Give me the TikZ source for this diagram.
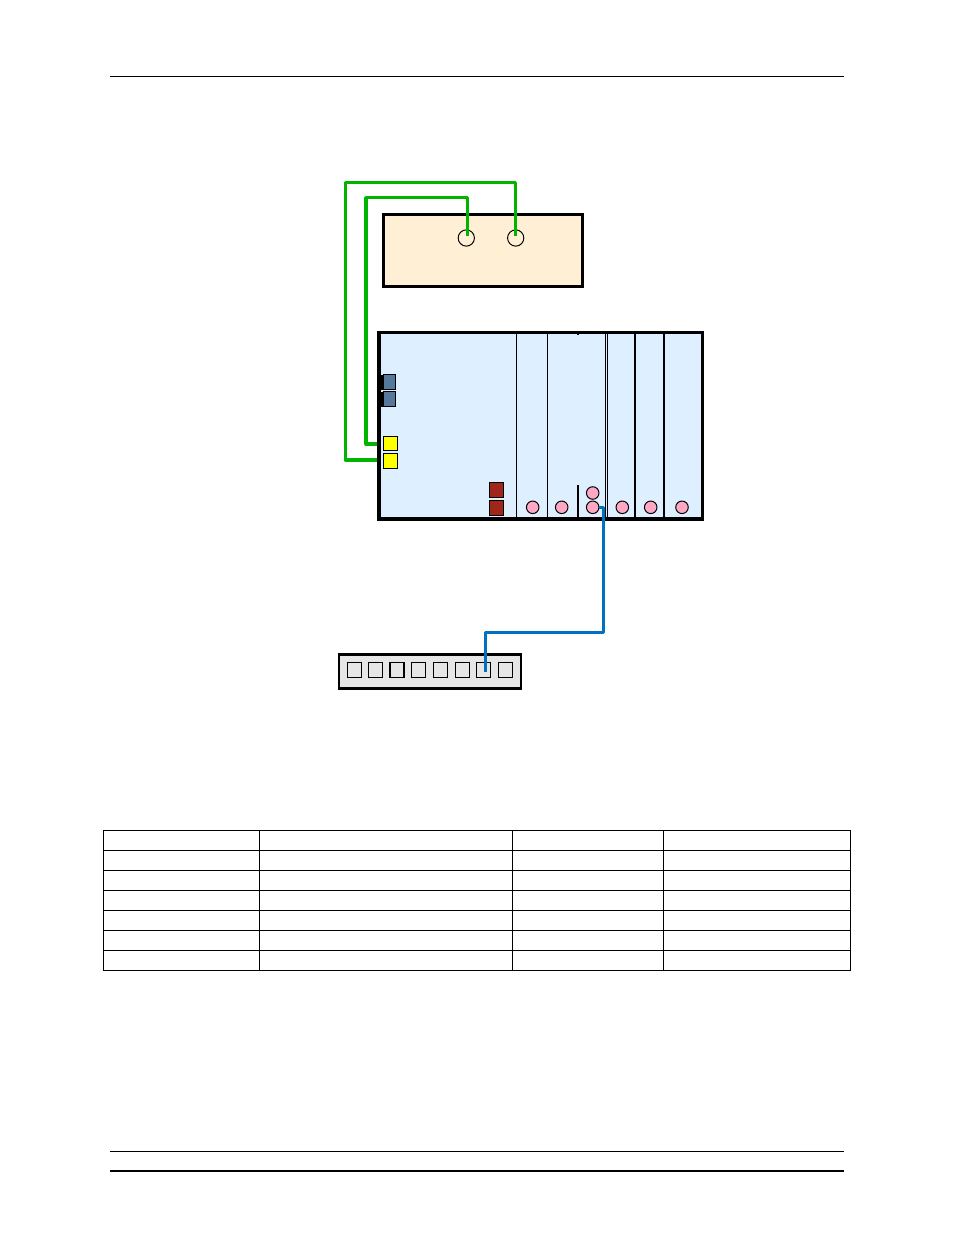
\documentclass[tikz,border=0pt]{standalone}
\definecolor{wiregreen}{HTML}{00B400}
\definecolor{wireblue}{HTML}{0070C0}
\definecolor{beigefill}{HTML}{FFF0D5}
\definecolor{shelffill}{HTML}{DEEFFF}
\definecolor{steelfill}{HTML}{55789B}
\definecolor{brickfill}{HTML}{A0261A}
\definecolor{pinkfill}{HTML}{FFA8C4}
\definecolor{hubfill}{HTML}{E6E6E6}
\definecolor{sfpfill}{HTML}{FFFF00}
\begin{document}
\begin{tikzpicture}[
    x=0.75pt, y=-0.75pt,
    box/.style={draw, inner sep=0pt, outer sep=0pt},
    jack/.style={box, circle, line width=0.75pt, minimum size=12.2pt},
    led/.style={box, circle, fill=pinkfill, line width=0.75pt, minimum size=9.4pt},
    sq/.style={box, line width=0.8pt, minimum width=10.6pt, minimum height=11pt},
    port/.style={box, line width=0.9pt, minimum width=10.4pt, minimum height=10.9pt},
    wire/.style={line width=2.5pt, line join=round},
    rule/.style={line width=0.75pt},
]
\useasboundingbox (0,0) rectangle (954,1235);

% Page rules
\draw[rule] (110,76.5) -- (844,76.5);
\draw[rule] (110,1151.5) -- (844,1151.5);
\draw[line width=1.5pt] (110,1171) -- (844,1171);

% Top unit
\node[box, fill=beigefill, line width=2.4pt, minimum width=149.2pt, minimum height=54pt] (unit) at (483.2,250.5) {};
\node[jack] (jackA) at (466.3,238) {};
\node[jack] (jackB) at (515.7,238) {};

% Free ends at the shelf
\coordinate (bendA) at (366,197.7);
\coordinate (bendB) at (345.5,182.3);
\coordinate (sockA) at (379,444);
\coordinate (sockB) at (379,460);

% Green wires
\draw[wire, wiregreen] ([shift={(1.4,-2)}]jackA.center) |- (bendA) |- (sockA);
\draw[wire, wiregreen] ([shift={(0,-2)}]jackB.center) |- (bendB) |- (sockB);

% Shelf
\node[box, fill=shelffill, line width=2.7pt, minimum width=242.6pt, minimum height=140pt] (shelf) at (540.7,425.7) {};

% Slot dividers
\draw[line width=0.75pt] (516.3,333) -- (516.3,518);
\draw[line width=0.75pt] (547.3,333) -- (547.3,518);
\draw[line width=1.1pt] (578,485) -- (578,518);
\draw[line width=1.1pt] (578,333) -- (578,335);
\draw[line width=0.75pt] (605.3,333) -- (605.3,518);
\draw[line width=0.75pt] (607.2,333) -- (607.2,518);
\draw[line width=1.5pt] (635,333) -- (635,518);
\draw[line width=1.5pt] (664,333) -- (664,518);

% Blue pair
\fill (380,374.5) rectangle (384,389.5);
\fill (380,391.5) rectangle (384,406.5);
\node[sq, fill=steelfill, minimum width=9pt] (mgmtA) at (389.2,382) {};
\node[sq, fill=steelfill, minimum width=9pt] (mgmtB) at (389.2,399) {};

% Yellow pair
\node[sq, fill=sfpfill] (sfpA) at (390.6,443.5) {};
\node[sq, fill=sfpfill] (sfpB) at (390.6,461) {};

% Red pair
\node[sq, fill=brickfill] (pwrA) at (496.5,490.2) {};
\node[sq, fill=brickfill] (pwrB) at (496.5,507.8) {};

% Pink leds
\node[led] (ledA)  at (532.7,507.3) {};
\node[led] (ledB)  at (561.7,507.3) {};
\node[led] (ledC)  at (592.7,493) {};
\node[led] (ledD)  at (592.7,507.3) {};
\node[led] (ledE)  at (622.3,507.3) {};
\node[led] (ledF)  at (650.7,507.3) {};
\node[led] (ledG)  at (682,507.3) {};

% Hub
\node[box, fill=hubfill, line width=1.9pt, minimum width=136.4pt, minimum height=25.6pt] (hub) at (430,671.5) {};
\node[port] (portA) at (354.3,670) {};
\node[port] (portB) at (375.3,670) {};
\node[port] (portC) at (397,670) {};
\node[port] (portD) at (418.3,670) {};
\node[port] (portE) at (440.7,670) {};
\node[port] (portF) at (462.3,670) {};
\node[port] (portG) at (483.5,670) {};
\node[port] (portH) at (505.3,670) {};

% Blue wire
\coordinate (bendC) at (603.7,632.3);
\draw[wire, wireblue] (ledD.east) -| (bendC) -| ([shift={(1.8,1.7)}]portG.center);

% Table
\draw[rule] (103.5,830.5) rectangle (850.5,970.5);
\draw[rule] (103.5,850.5) -- (850.5,850.5);
\draw[rule] (103.5,870.5) -- (850.5,870.5);
\draw[rule] (103.5,890.5) -- (850.5,890.5);
\draw[rule] (103.5,910.5) -- (850.5,910.5);
\draw[rule] (103.5,930.5) -- (850.5,930.5);
\draw[rule] (103.5,950.5) -- (850.5,950.5);
\draw[rule] (259.5,830.5) -- (259.5,970.5);
\draw[rule] (512.5,830.5) -- (512.5,970.5);
\draw[rule] (663.5,830.5) -- (663.5,970.5);

\end{tikzpicture}
\end{document}
